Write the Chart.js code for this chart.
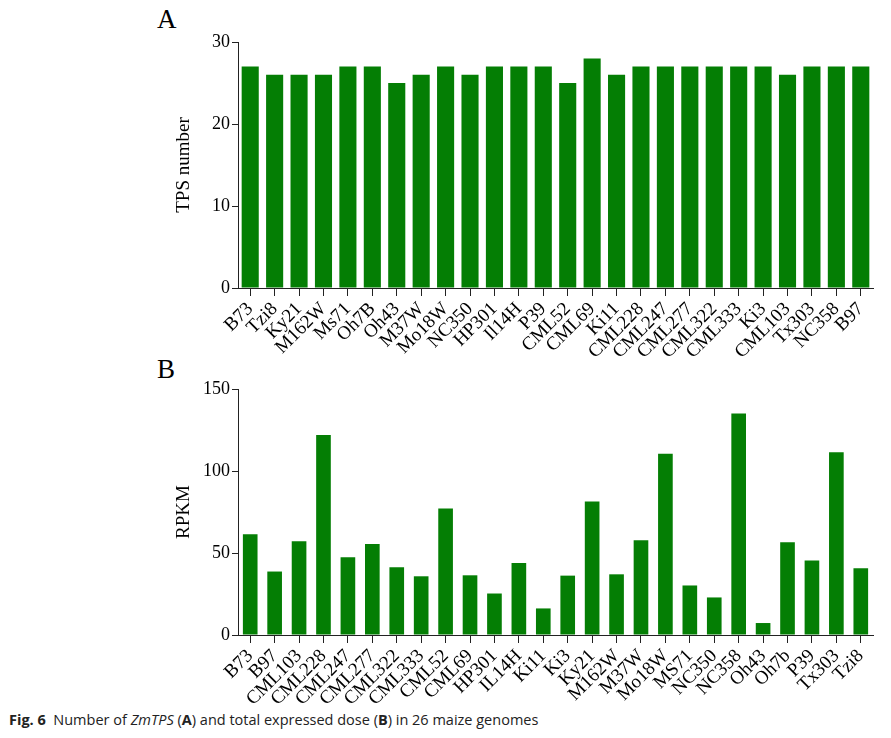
<!DOCTYPE html>
<html>
<head>
<meta charset="utf-8">
<script src="https://cdn.jsdelivr.net/npm/chart.js@4"></script>
<style>
  html, body { margin: 0; padding: 0; background: #fff; }
  body { width: 891px; height: 738px; position: relative; overflow: hidden; }
  .wrap { position: absolute; left: 0; width: 891px; }
  #wrapA { top: 0; height: 360px; }
  #wrapB { top: 360px; height: 345px; }
  .panel { position: absolute; font-family: "Liberation Serif", serif; font-size: 27px; color: #000; }
  #caption { position: absolute; left: 9px; top: 710px; font-family: "Open Sans", sans-serif; font-size: 14.5px; color: #222; white-space: nowrap; }
  #caption b { font-weight: 700; }
</style>
</head>
<body>
<div class="panel" style="left:157px; top:4px;">A</div>
<div class="panel" style="left:157px; top:354px;">B</div>
<div class="wrap" id="wrapA"><canvas id="chartA"></canvas></div>
<div class="wrap" id="wrapB"><canvas id="chartB"></canvas></div>
<div id="caption"><b>Fig. 6</b>&nbsp; Number of <i>ZmTPS</i> (<b>A</b>) and total expressed dose (<b>B</b>) in 26 maize genomes</div>
<script>
// Panel A: TPS number per genome
const genomesA = ["B73","Tzi8","Ky21","M162W","Ms71","Oh7B","Oh43","M37W","Mo18W","NC350","HP301","Il14H","P39","CML52","CML69","Ki11","CML228","CML247","CML277","CML322","CML333","Ki3","CML103","Tx303","NC358","B97"];
const tpsNumber = [27,26,26,26,27,27,25,26,27,26,27,27,27,25,28,26,27,27,27,27,27,27,26,27,27,27];
const ticksA = [0,10,20,30];

// Panel B: RPKM per genome
const genomesB = ["B73","B97","CML103","CML228","CML247","CML277","CML322","CML333","CML52","CML69","HP301","IL14H","Ki11","Ki3","Ky21","M162W","M37W","Mo18W","MS71","NC350","NC358","Oh43","Oh7b","P39","Tx303","Tzi8"];
const rpkm = [61.5,38.7,57.1,122,47.4,55.5,41.3,35.8,77.1,36.4,25.3,43.9,16.2,36.2,81.4,37,57.7,110.5,30.2,22.9,135,7.3,56.5,45.5,111.5,40.7];
const ticksB = [0,50,100,150];

const GREEN = '#047e04';
const SERIF = '"Liberation Serif", "Times New Roman", serif';

function makeChart(id, labels, values, yTicks, yTitle, padTop, xHeight, barPct) {
  const ymax = yTicks[yTicks.length - 1];
  return new Chart(document.getElementById(id), {
    type: 'bar',
    data: {
      labels: labels,
      datasets: [{ data: values, backgroundColor: GREEN, borderWidth: 0, barPercentage: barPct, categoryPercentage: 1.0 }]
    },
    options: {
      responsive: true,
      maintainAspectRatio: false,
      animation: false,
      devicePixelRatio: 1,
      layout: { padding: { top: padTop, right: 18, left: 0, bottom: 0 } },
      plugins: { legend: { display: false }, tooltip: { enabled: false }, title: { display: false } },
      scales: {
        x: {
          offset: true,
          grid: { offset: false, drawOnChartArea: false, drawTicks: true, tickLength: 8, color: '#222', lineWidth: 1 },
          border: { display: true, color: '#222', width: 1 },
          ticks: { autoSkip: false, maxRotation: 45, minRotation: 45, padding: 2, color: '#000', font: { family: SERIF, size: 19 } },
          afterFit: (s) => { s.height = xHeight; }
        },
        y: {
          min: 0, max: ymax,
          afterBuildTicks: (s) => { s.ticks = yTicks.map(v => ({ value: v })); },
          grid: { drawOnChartArea: false, drawTicks: true, tickLength: 6, color: '#222', lineWidth: 1 },
          border: { display: true, color: '#222', width: 1 },
          ticks: { padding: 2, color: '#000', font: { family: SERIF, size: 18 } },
          title: { display: true, text: yTitle, color: '#000', font: { family: SERIF, size: 19 }, padding: { top: 173, bottom: 0 } },
          afterFit: (s) => { s.width = 238; }
        }
      }
    }
  });
}

makeChart('chartA', genomesA, tpsNumber, ticksA, 'TPS number', 42, 72, 0.7);
makeChart('chartB', genomesB, rpkm, ticksB, 'RPKM', 29, 70, 0.6);
</script>
</body>
</html>
